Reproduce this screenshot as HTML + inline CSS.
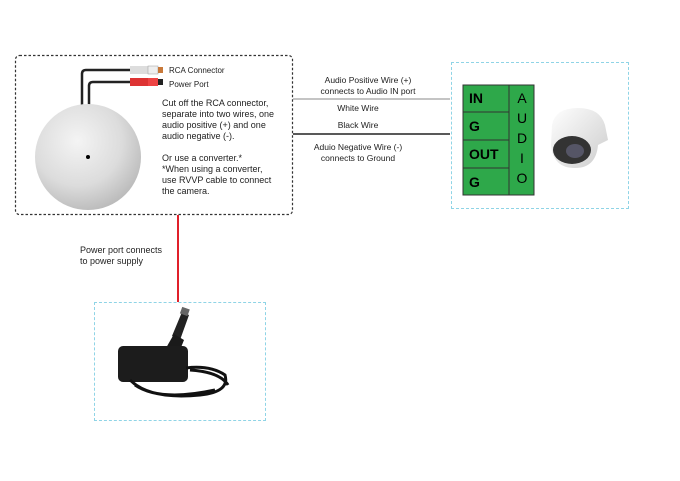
<!DOCTYPE html>
<html><head><style>
body{margin:0;width:680px;height:481px;background:#fff;position:relative;font-family:"Liberation Sans",sans-serif;overflow:hidden}
.a{position:absolute}
.t{position:absolute;font-size:9px;color:#222;line-height:11px}
</style></head><body>
<svg class="a" style="left:0;top:0" width="680" height="481">
<defs><radialGradient id="g" cx="0.4" cy="0.35" r="0.7"><stop offset="0" stop-color="#f4f4f4"/><stop offset="0.6" stop-color="#dcdcdc"/><stop offset="1" stop-color="#b8b8b8"/></radialGradient>
<linearGradient id="cam" x1="0" y1="0" x2="1" y2="1"><stop offset="0" stop-color="#fff"/><stop offset="1" stop-color="#ccc"/></linearGradient></defs>
<rect x="15.5" y="55.5" width="277" height="159" rx="4" fill="none" stroke="#333" stroke-width="1.2" stroke-dasharray="2.5,2"/>
<path d="M82 106 V74 Q82 70 86 70 H132" stroke="#222" stroke-width="2.5" fill="none"/>
<path d="M89 106 V86 Q89 82 93 82 H132" stroke="#222" stroke-width="2.5" fill="none"/>
<rect x="130" y="66" width="18" height="8" fill="#ddd"/><rect x="148" y="66" width="10" height="8" fill="#eee" stroke="#999" stroke-width="0.5"/><rect x="158" y="67" width="5" height="6" fill="#c8793a"/>
<rect x="130" y="78" width="18" height="8" fill="#d33"/><rect x="148" y="78" width="10" height="8" fill="#e44"/><rect x="158" y="79" width="5" height="6" fill="#222"/>
<circle cx="88" cy="157" r="53" fill="url(#g)"/>
<circle cx="88" cy="157" r="2" fill="#000"/>
<line x1="293" y1="99" x2="450" y2="99" stroke="#888" stroke-width="1"/>
<line x1="293" y1="134" x2="450" y2="134" stroke="#222" stroke-width="1.5"/>
<line x1="178" y1="215" x2="178" y2="302" stroke="#e0202a" stroke-width="2"/>
<rect x="463" y="85" width="71" height="110" fill="#2ea84a" stroke="#333" stroke-width="1"/>
<line x1="509" y1="85" x2="509" y2="195" stroke="#333"/>
<line x1="463" y1="112" x2="509" y2="112" stroke="#333"/>
<line x1="463" y1="140" x2="509" y2="140" stroke="#333"/>
<line x1="463" y1="168" x2="509" y2="168" stroke="#333"/>
<path d="M552 125 Q555 108 578 108 Q600 108 605 125 L608 140 L598 145 Q596 168 575 168 Q553 168 551 145 Z" fill="url(#cam)"/>
<ellipse cx="572" cy="150" rx="19" ry="14" fill="#333"/><ellipse cx="575" cy="151" rx="9" ry="7" fill="#556"/>
<path d="M172 336 L182 312 L189 315 L180 340 Z" fill="#222"/>
<rect x="181" y="308" width="8" height="7" fill="#666" transform="rotate(20 185 311)"/>
<path d="M166 348 L174 334 L184 340 L180 350 Z" fill="#1a1a1a"/>
<rect x="118" y="346" width="70" height="36" rx="5" fill="#1c1c1c"/>
<path d="M130 380 Q150 400 200 395 Q230 392 225 375 Q210 365 186 368 M135 385 Q160 402 215 390 M190 370 Q220 372 228 385" stroke="#111" stroke-width="3" fill="none"/>
</svg>
<div class="t" style="left:169px;top:65px;font-size:8px">RCA Connector</div>
<div class="t" style="left:169px;top:79px;font-size:8px">Power Port</div>
<div class="t" style="left:162px;top:98px">Cut off the RCA connector,<br>separate into two wires, one<br>audio positive (+) and one<br>audio negative (-).<br><br>Or use a converter.*<br>*When using a converter,<br>use RVVP cable to connect<br>the camera.</div>
<div class="t" style="left:293px;top:75px;width:150px;text-align:center;font-size:8.5px">Audio Positive Wire (+)<br>connects to Audio IN port</div>
<div class="t" style="left:293px;top:103px;width:130px;text-align:center;font-size:8.5px">White Wire</div>
<div class="t" style="left:293px;top:120px;width:130px;text-align:center;font-size:8.5px">Black Wire</div>
<div class="t" style="left:293px;top:142px;width:130px;text-align:center;font-size:8.5px">Aduio Negative Wire (-)<br>connects to Ground</div>
<div class="a" style="left:451px;top:62px;width:176px;height:145px;border:1px dashed #8fd4e6"></div>
<div class="a" style="left:469px;top:90px;font:bold 14px 'Liberation Sans',sans-serif">IN</div>
<div class="a" style="left:469px;top:118px;font:bold 14px 'Liberation Sans',sans-serif">G</div>
<div class="a" style="left:469px;top:146px;font:bold 14px 'Liberation Sans',sans-serif">OUT</div>
<div class="a" style="left:469px;top:174px;font:bold 14px 'Liberation Sans',sans-serif">G</div>
<div class="a" style="left:513px;top:88px;width:18px;text-align:center;font:14px/20px 'Liberation Sans',sans-serif">A<br>U<br>D<br>I<br>O</div>
<div class="t" style="left:80px;top:245px">Power port connects<br>to power supply</div>
<div class="a" style="left:94px;top:302px;width:170px;height:117px;border:1px dashed #8fd4e6"></div>
</body></html>
